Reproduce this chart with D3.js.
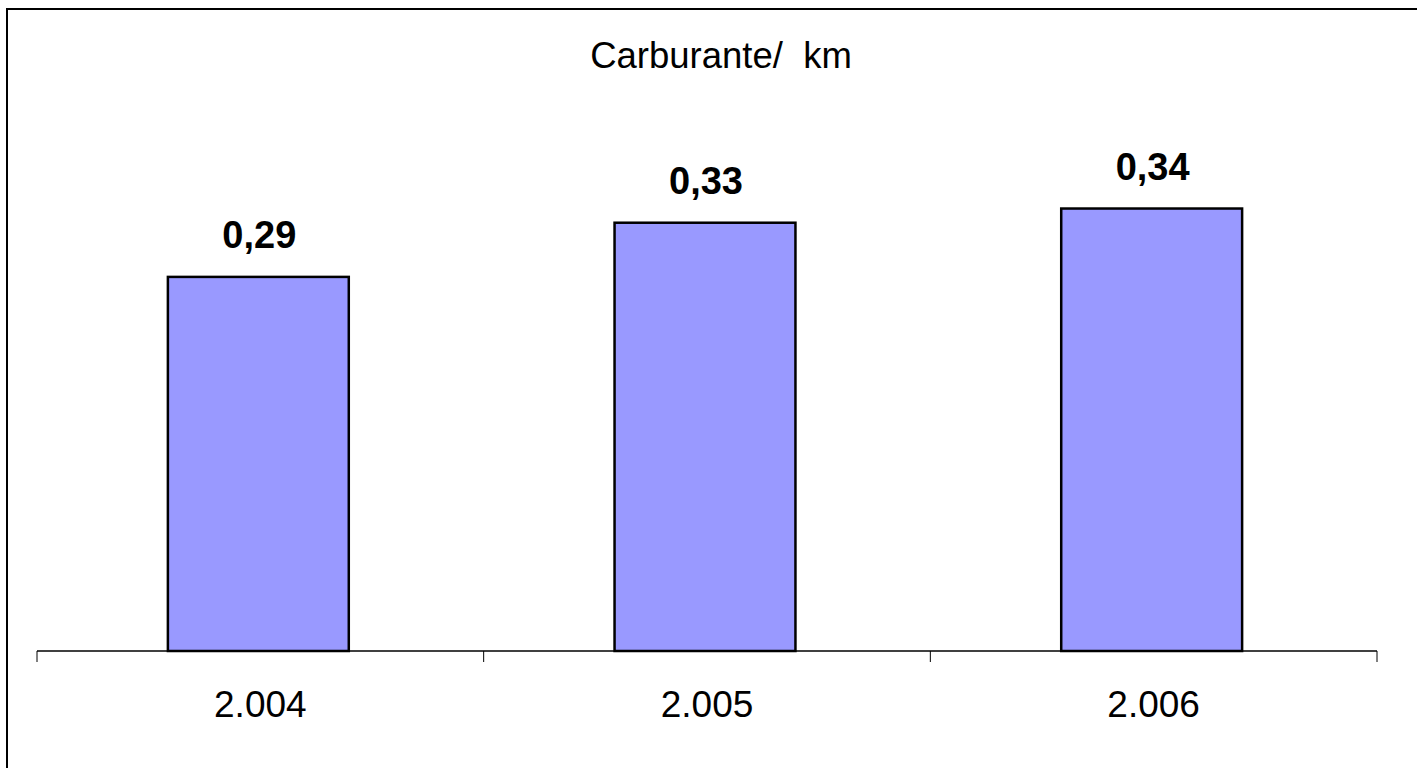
<!DOCTYPE html>
<html>
<head>
<meta charset="utf-8">
<script src="https://cdn.jsdelivr.net/npm/d3@7"></script>
<style>
  body { margin: 0; background: #fff; }
  text { font-family: "Liberation Sans", Arial, sans-serif; }
</style>
</head>
<body>
<div id="viz-container"></div>
<script>
let years = ["2.004", "2.005", "2.006"];
let values = [0.29, 0.332, 0.343];
let valueLabels = ["0,29", "0,33", "0,34"];
let title = "Carburante/  km";

let svg = d3.select("#viz-container")
  .append("svg")
    .attr("width", 1417)
    .attr("height", 768);

// chart frame (right/bottom edges run off the picture)
svg.append("rect")
  .attr("x", 7).attr("y", 9)
  .attr("width", 1500).attr("height", 900)
  .attr("fill", "#fff")
  .attr("stroke", "#000")
  .attr("stroke-width", 2);

let x = d3.scaleBand()
  .domain(years)
  .range([37, 1377])
  .paddingInner(0.595)
  .paddingOuter(0.2975);

let y = d3.scaleLinear()
  .domain([0, 0.4])
  .range([651, 135]);

svg.append("text")
  .attr("x", 721)
  .attr("y", 68)
  .attr("text-anchor", "middle")
  .attr("font-size", 36.5)
  .style("white-space", "pre")
  .text(title);

svg.selectAll(".bar").data(values).enter()
  .append("rect")
  .attr("class", "bar")
  .attr("x", (d, i) => x(years[i]) - 2)
  .attr("y", d => y(d))
  .attr("width", x.bandwidth())
  .attr("height", d => y(0) - y(d))
  .attr("fill", "#9999FF")
  .attr("stroke", "#000")
  .attr("stroke-width", 2.5);

svg.selectAll(".val").data(values).enter()
  .append("text")
  .attr("class", "val")
  .attr("x", (d, i) => x(years[i]) + x.bandwidth() / 2 - 1)
  .attr("y", d => y(d) - 29)
  .attr("text-anchor", "middle")
  .attr("font-size", 38)
  .attr("font-weight", "bold")
  .text((d, i) => valueLabels[i]);

// category axis: ticks sit between the categories
let gap = x.step() * x.paddingInner() / 2;
let tickX = years.map(d => x(d) - gap).concat([x(years[years.length - 1]) + x.bandwidth() + gap]);

let axis = svg.append("g").attr("class", "axis");
axis.append("line")
  .attr("x1", x.range()[0]).attr("x2", x.range()[1])
  .attr("y1", y(0)).attr("y2", y(0))
  .attr("stroke", "#000").attr("stroke-width", 1.5);
axis.selectAll(".tick").data(tickX).enter()
  .append("line")
  .attr("x1", d => d).attr("x2", d => d)
  .attr("y1", y(0)).attr("y2", y(0) + 11)
  .attr("stroke", "#000").attr("stroke-width", 1);
axis.selectAll(".lab").data(years).enter()
  .append("text")
  .attr("x", d => x(d) + x.bandwidth() / 2)
  .attr("y", 717)
  .attr("text-anchor", "middle")
  .attr("font-size", 37)
  .text(d => d);
</script>
</body>
</html>
